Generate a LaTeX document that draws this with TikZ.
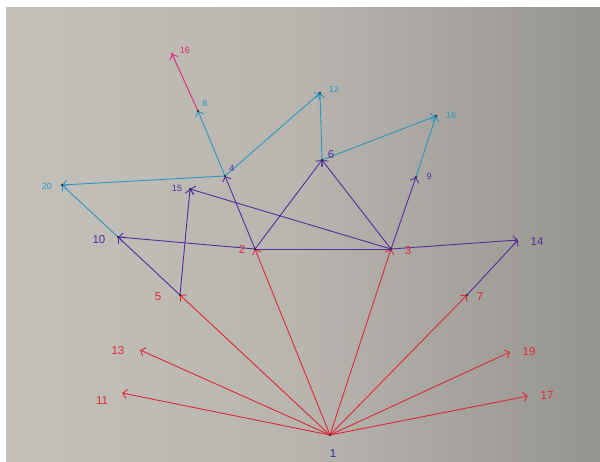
\documentclass[tikz,border=0pt]{standalone}
\usepackage{fontspec}
\setmainfont{Liberation Sans}
\usetikzlibrary{arrows.meta}
\definecolor{paperL}{RGB}{196,192,186}
\definecolor{paperM}{RGB}{184,181,175}
\definecolor{paperR}{RGB}{150,148,143}
\definecolor{cred}{RGB}{222,40,55}
\definecolor{cpur}{RGB}{85,45,160}
\definecolor{cblu}{RGB}{45,150,195}
\definecolor{cpink}{RGB}{220,40,125}
\definecolor{cnavy}{RGB}{40,45,165}
\tikzset{
  vtx/.style={circle,inner sep=0pt,minimum size=0pt},
  dotv/.style={circle,fill=black!80,inner sep=0pt,minimum size=2.8pt},
  tip/.style={-{Straight Barb[length=4pt,width=9pt,line width=0.9pt]}},
  redE/.style={draw=cred,line width=0.9pt},
  purE/.style={draw=cpur,line width=0.9pt},
  bluE/.style={draw=cblu,line width=0.9pt},
  pinkE/.style={draw=cpink,line width=0.9pt},
  lab/.style={inner sep=0pt,font=\fontsize{9}{9}\selectfont},
  bigl/.style={inner sep=0pt,font=\fontsize{11.5}{11.5}\selectfont},
}
\begin{document}
\begin{tikzpicture}[x=1pt,y=-1pt]
\useasboundingbox (0,0) rectangle (600,462);
\fill[white] (0,0) rectangle (600,462);
\shade[left color=paperL,right color=paperR,middle color=paperM] (6,8) rectangle (600,462);
% vertices
\node[vtx] (n1) at (330,435) {};
\node[vtx] (n11) at (122,393) {};
\node[vtx] (n13) at (140,350) {};
\node[vtx] (n5) at (180,295) {};
\node[vtx] (n2) at (255,249) {};
\node[vtx] (n3) at (391,249) {};
\node[vtx] (n7) at (467,295) {};
\node[vtx] (n19) at (510,352) {};
\node[vtx] (n17) at (528,396) {};
\node[vtx] (n10) at (118,237) {};
\node[vtx] (n15) at (190,189) {};
\node[vtx] (n14) at (518,240) {};
\node[vtx] (n4) at (225,176) {};
\node[vtx] (n6) at (322,160) {};
\node[vtx] (n9) at (416,177) {};
\node[vtx] (n20) at (62,185) {};
\node[vtx] (n8) at (198,111) {};
\node[vtx] (n12) at (320,93) {};
\node[vtx] (n18) at (436,116) {};
\node[vtx] (n16) at (172,54) {};
% red edges
\draw[redE,tip] (n1) -- (n11);
\draw[redE,tip] (n1) -- (n13);
\draw[redE,tip] (n1) -- (n5);
\draw[redE,tip] (n1) -- (n2);
\draw[redE,tip] (n1) -- (n3);
\draw[redE,tip] (n1) -- (n7);
\draw[redE,tip] (n1) -- (n19);
\draw[redE,tip] (n1) -- (n17);
% purple edges
\draw[purE,tip] (n5) -- (n10);
\draw[purE,tip] (n5) -- (n15);
\draw[purE,tip] (n2) -- (n10);
\draw[purE] (n2) -- (n3);
\draw[purE,tip] (n3) -- (n14);
\draw[purE,tip] (n7) -- (n14);
\draw[purE,tip] (n2) -- (n4);
\draw[purE,tip] (n2) -- (n6);
\draw[purE,tip] (n3) -- (n6);
\draw[purE,tip] (n3) -- (n15);
\draw[purE,tip] (n3) -- (n9);
% blue edges
\draw[bluE,tip] (n10) -- (n20);
\draw[bluE,tip] (n4) -- (n20);
\draw[bluE,tip] (n4) -- (n8);
\draw[bluE,tip] (n4) -- (n12);
\draw[bluE,tip] (n6) -- (n12);
\draw[bluE,tip] (n6) -- (n18);
\draw[bluE,tip] (n9) -- (n18);
% pink edge
\draw[pinkE,tip] (n8) -- (n16);
% dots
\foreach \v in {n1,n2,n3,n4,n6,n9,n10,n15,n20,n8,n12,n18,n7,n5} \node[dotv] at (\v) {};
\node[circle,fill=cpink,inner sep=0pt,minimum size=2.8pt] at (n16) {};
% labels
\node[bigl,text=cnavy] (l1) at (333,454) {1};
\node[bigl,text=cred] (l11) at (102,401) {11};
\node[bigl,text=cred] (l13) at (118,351) {13};
\node[bigl,text=cred] (l5) at (158,297) {5};
\node[bigl,text=cred] (l2) at (242,249) {2};
\node[bigl,text=cred] (l3) at (408,251) {3};
\node[bigl,text=cred] (l7) at (480,297) {7};
\node[bigl,text=cred] (l19) at (529,352) {19};
\node[bigl,text=cred] (l17) at (547,396) {17};
\node[bigl,text=cpur] (l10) at (99,240) {10};
\node[lab,text=cpur] (l15) at (177,188) {15};
\node[bigl,text=cpur] (l14) at (537,242) {14};
\node[lab,text=cpur] (l4) at (232,168) {4};
\node[bigl,text=cpur] (l6) at (331,155) {6};
\node[lab,text=cpur] (l9) at (429,176) {9};
\node[lab,text=cblu] (l20) at (47,186) {20};
\node[lab,text=cblu] (l8) at (205,103) {8};
\node[lab,text=cblu] (l12) at (334,89) {12};
\node[lab,text=cblu] (l18) at (451,115) {18};
\node[lab,text=cpink] (l16) at (185,50) {16};
\end{tikzpicture}
\end{document}
